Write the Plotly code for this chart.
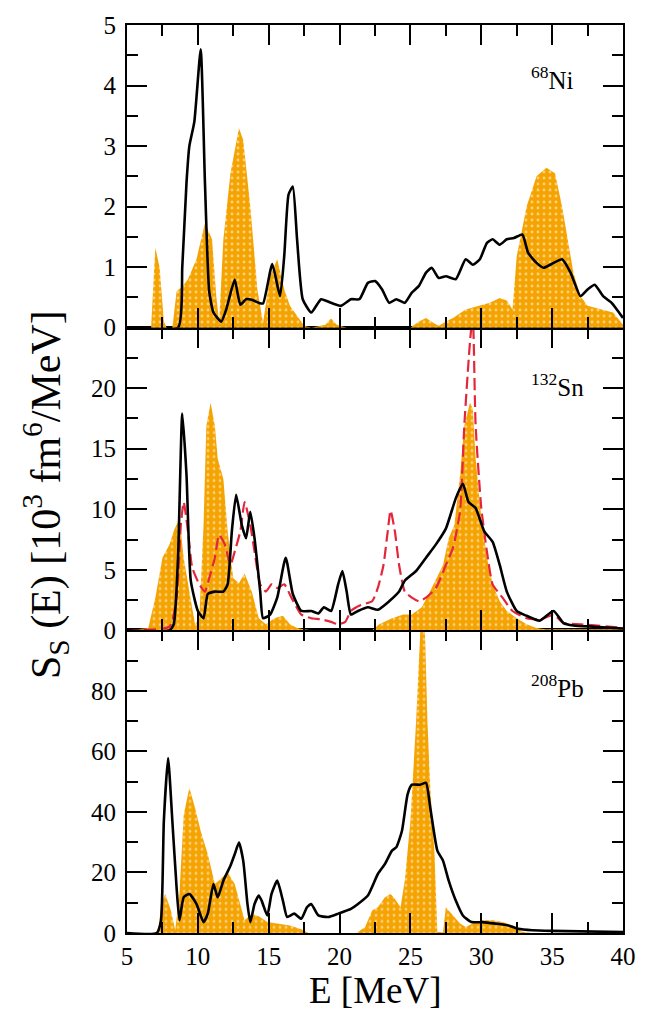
import plotly.graph_objects as go

# ---------------- data ----------------
ni_black_E = [5, 8.6, 8.9, 9.2, 9.4, 9.75, 10.2, 10.5, 10.8, 11.1, 11.65, 12.0, 12.6, 13.0, 13.4, 13.8, 14.3, 14.6, 15.25, 15.8, 16.1, 16.4, 16.7, 17.0, 17.4, 18.0, 18.7, 19.4, 20.1, 20.8, 21.4, 22.0, 22.5, 23.0, 23.5, 24.0, 24.6, 25.1, 25.6, 26.1, 26.5, 27.0, 27.5, 28.2, 28.9, 29.4, 29.9, 30.4, 30.8, 31.3, 31.8, 32.3, 32.9, 33.3, 33.9, 34.4, 35.1, 35.7, 36.3, 37.0, 37.5, 38.0, 38.6, 39.2, 40]
ni_black_S = [0, 0, 1.0, 2.4, 3.0, 3.4, 4.6, 2.4, 0.6, 0.25, 0.1, 0.3, 0.79, 0.38, 0.47, 0.46, 0.41, 0.4, 1.05, 0.52, 1.2, 2.2, 2.33, 1.46, 0.47, 0.25, 0.47, 0.41, 0.36, 0.47, 0.47, 0.74, 0.77, 0.63, 0.41, 0.47, 0.41, 0.58, 0.69, 0.91, 0.99, 0.82, 0.85, 0.80, 1.13, 1.04, 1.13, 1.40, 1.46, 1.37, 1.46, 1.48, 1.54, 1.24, 1.07, 0.99, 1.07, 1.13, 0.91, 0.52, 0.63, 0.71, 0.52, 0.41, 0.16]

ni_fill_E = [5, 6.7, 6.9, 7.0, 7.3, 7.6, 7.8, 8.2, 8.5, 8.9, 9.3, 9.9, 10.5, 11.0, 11.3, 11.5, 11.8, 12.3, 12.9, 13.2, 13.7, 14.2, 14.6, 15.1, 15.6, 16.1, 16.5, 17.0, 17.5, 18.0, 19.0, 19.4, 19.8, 20.5, 25.0, 25.6, 26.1, 26.6, 27.0, 27.5, 28.0, 28.9, 29.9, 30.6, 31.3, 31.8, 32.2, 32.5, 33.2, 33.9, 34.6, 35.2, 35.7, 36.2, 36.5, 37.0, 37.5, 38.5, 39.3, 40]
ni_fill_S = [0, 0, 0.9, 1.32, 1.0, 0.1, 0, 0, 0.6, 0.68, 0.8, 1.13, 1.73, 1.46, 0.52, 0.1, 1.46, 2.55, 3.3, 3.1, 2.0, 0.63, 0.08, 0.85, 1.13, 0.63, 0.36, 0.19, 0.03, 0, 0.05, 0.15, 0.05, 0, 0, 0.1, 0.16, 0.08, 0.03, 0.1, 0.16, 0.3, 0.36, 0.41, 0.49, 0.45, 0.3, 1.18, 2.0, 2.5, 2.64, 2.55, 2.0, 1.35, 0.91, 0.52, 0.36, 0.30, 0.25, 0.05]

sn_black_E = [5, 8.0, 8.3, 8.6, 8.9, 9.2, 9.5, 10.0, 10.4, 10.7, 11.2, 11.8, 12.1, 12.4, 12.7, 13.1, 13.4, 13.7, 14.0, 14.4, 14.6, 15.1, 15.6, 16.2, 16.7, 17.3, 18.0, 18.5, 18.9, 19.4, 19.9, 20.2, 20.5, 20.8, 21.3, 22.0, 22.7, 23.5, 24.2, 24.6, 25.4, 26.1, 26.8, 27.5, 28.2, 28.7, 29.1, 29.6, 30.2, 30.8, 31.3, 31.8, 32.5, 33.2, 34.1, 35.1, 35.8, 36.5, 38.0, 40]
sn_black_S = [0, 0, 0.5, 6.0, 17.9, 12.8, 4.1, 1.6, 1.0, 3.0, 3.2, 3.2, 3.8, 8.2, 11.2, 8.7, 7.6, 9.8, 7.6, 3.2, 1.0, 1.3, 2.7, 6.0, 3.0, 1.6, 1.6, 1.4, 1.9, 1.6, 3.8, 4.9, 3.2, 1.3, 1.6, 1.9, 1.7, 2.4, 3.2, 4.1, 4.9, 6.0, 7.1, 8.4, 10.9, 12.1, 10.6, 10.1, 8.2, 7.3, 5.4, 3.2, 1.6, 1.2, 0.8, 1.6, 0.6, 0.4, 0.3, 0.15]

sn_red_E = [5, 8.0, 8.5, 8.8, 9.0, 9.3, 9.6, 10.1, 10.5, 10.8, 11.2, 11.5, 11.9, 12.3, 12.6, 13.0, 13.3, 13.7, 14.0, 14.4, 14.8, 15.2, 15.6, 16.1, 16.6, 17.3, 18.0, 18.7, 19.4, 19.9, 20.4, 20.8, 21.5, 22.3, 22.7, 23.1, 23.4, 23.6, 23.9, 24.2, 24.6, 25.1, 25.6, 26.1, 26.8, 27.5, 28.0, 28.5, 28.8, 29.2, 29.4, 29.6, 30.0, 30.4, 30.8, 31.5, 32.2, 33.2, 34.2, 35.1, 35.8, 37.0, 40]
sn_red_S = [0, 0.3, 2.7, 8.7, 10.6, 8.2, 5.2, 3.8, 3.2, 4.3, 6.0, 7.9, 7.1, 5.4, 6.5, 8.2, 10.6, 8.7, 6.5, 3.8, 3.2, 3.8, 3.5, 3.8, 2.7, 1.3, 1.0, 0.9, 0.7, 0.5, 0.7, 1.6, 2.1, 2.4, 3.5, 5.4, 8.2, 9.9, 8.2, 5.4, 3.2, 2.7, 2.4, 2.7, 3.5, 5.4, 6.8, 9.8, 16.9, 23.8, 26.0, 16.9, 10.1, 6.5, 3.8, 2.7, 1.6, 1.0, 0.9, 1.3, 0.6, 0.5, 0.2]

sn_fill_E = [5, 6.5, 7.0, 7.5, 8.0, 8.3, 8.7, 9.0, 9.4, 9.8, 10.1, 10.4, 10.6, 10.9, 11.2, 11.4, 11.8, 12.1, 12.5, 12.9, 13.3, 13.8, 14.3, 14.8, 15.4, 16.0, 16.5, 17.0, 17.5, 18.0, 22.3, 22.8, 23.7, 24.5, 25.1, 25.8, 26.5, 27.3, 27.7, 28.1, 28.5, 28.8, 29.2, 29.4, 29.6, 30.0, 30.4, 30.8, 31.3, 31.8, 32.5, 33.2, 33.9, 34.5, 40]
sn_fill_S = [0, 0.2, 2.7, 6.0, 7.1, 8.2, 9.3, 6.0, 3.2, 0.5, 1.0, 8.7, 16.9, 18.8, 16.9, 14.2, 12.5, 8.2, 4.3, 3.9, 4.7, 3.2, 1.0, 0.5, 1.0, 1.2, 0.5, 0.2, 0.1, 0, 0, 0.5, 1.0, 1.3, 1.3, 1.9, 3.5, 5.4, 7.6, 8.7, 12.8, 16.9, 18.8, 18.3, 14.2, 9.3, 6.0, 3.8, 2.4, 1.6, 1.0, 0.5, 0.2, 0.1, 0.1]

pb_black_E = [5, 7.1, 7.4, 7.6, 7.9, 8.2, 8.5, 8.7, 9.0, 9.4, 9.9, 10.4, 10.7, 11.1, 11.4, 11.8, 12.3, 12.6, 12.9, 13.2, 13.5, 13.7, 14.0, 14.3, 14.5, 14.9, 15.2, 15.6, 16.0, 16.3, 16.8, 17.3, 17.7, 18.0, 18.5, 19.2, 19.9, 20.8, 21.3, 22.0, 22.7, 23.2, 23.7, 24.0, 24.4, 24.8, 25.1, 25.7, 26.1, 26.4, 26.9, 27.3, 27.7, 28.2, 28.7, 29.3, 30.1, 31.0, 31.9, 32.6, 33.6, 35.0, 40]
pb_black_S = [0, 0, 4.2, 37, 57.8, 37, 15, 4.2, 11.8, 12.9, 9.6, 3.6, 6.4, 16.2, 11.8, 17.3, 22.2, 26, 29.9, 23.9, 9.6, 3.6, 9.6, 12.4, 10.7, 5.8, 12.9, 17.3, 10.7, 5.3, 6.4, 4.7, 8.5, 9.6, 5.8, 5.3, 6.4, 8.0, 9.6, 12.4, 19.5, 22.8, 27.2, 28.3, 33.7, 45.8, 49, 49, 49.6, 41.4, 27.2, 23.9, 17.3, 10.7, 5.8, 3.6, 3.6, 3.1, 2.5, 1.4, 0.9, 0.7, 0.3]

pb_fill_E = [5, 7.2, 7.4, 7.7, 8.1, 8.4, 8.7, 9.0, 9.4, 9.8, 10.2, 10.7, 11.2, 11.7, 12.1, 12.6, 13.0, 13.3, 13.8, 14.3, 14.9, 15.6, 16.5, 17.3, 17.8, 21.2, 21.8, 22.3, 22.7, 23.2, 23.6, 23.9, 24.3, 24.6, 25.0, 25.4, 25.7, 26.0, 26.2, 26.4, 26.7, 26.9, 27.3, 27.5, 27.9, 28.5, 28.9, 29.4, 30.1, 30.8, 31.5, 32.2, 32.8, 33.5, 40]
pb_fill_S = [0, 0, 9.6, 12.9, 7.4, 0.9, 12.9, 39, 48, 41.4, 33.7, 26, 16.2, 18.4, 20, 16.2, 9.6, 4.2, 6.4, 5.5, 3.6, 3.1, 2.5, 1.2, 0, 0, 2, 7.4, 8.5, 11.8, 12.9, 11.3, 8.5, 17.3, 37, 70, 100, 104, 70, 48, 26, 0.3, 0.3, 8.5, 6.4, 3.1, 2, 3.1, 4.2, 4.2, 3.6, 2.5, 0.5, 0, 0]

x_ticks = [5, 10, 15, 20, 25, 30, 35, 40]
ni_yticks = [0, 1, 2, 3, 4, 5]
sn_yticks = [0, 5, 10, 15, 20]
pb_yticks = [0, 20, 40, 60, 80]
labels = ["<sup>68</sup>Ni", "<sup>132</sup>Sn", "<sup>208</sup>Pb"]

# ---------------- styling ----------------
ORANGE = "#f5a300"
FONT = "Liberation Serif, Times New Roman, Times, serif"

def fill_trace(E, S, xa, ya):
    return go.Scatter(x=E, y=S, mode="lines", line=dict(width=0, color=ORANGE),
                      fill="tozeroy", fillcolor=ORANGE,
                      fillpattern=dict(shape=".", fgcolor="white", bgcolor=ORANGE,
                                       size=6, solidity=0.18),
                      xaxis=xa, yaxis=ya, showlegend=False, hoverinfo="skip")

def line_trace(E, S, xa, ya, color="black", dash="solid", width=2.6):
    return go.Scatter(x=E, y=S, mode="lines",
                      line=dict(color=color, width=width, dash=dash, shape="spline", smoothing=0.5),
                      xaxis=xa, yaxis=ya, showlegend=False)

fig = go.Figure()
# top panel: 68Ni (x3/y3)
fig.add_trace(fill_trace(ni_fill_E, ni_fill_S, "x3", "y3"))
fig.add_trace(line_trace(ni_black_E, ni_black_S, "x3", "y3"))
# middle panel: 132Sn (x2/y2)
fig.add_trace(fill_trace(sn_fill_E, sn_fill_S, "x2", "y2"))
fig.add_trace(line_trace(sn_red_E, sn_red_S, "x2", "y2", color="#e3263a", dash="12px,5px", width=2.2))
fig.add_trace(line_trace(sn_black_E, sn_black_S, "x2", "y2"))
# bottom panel: 208Pb (x/y)
fig.add_trace(fill_trace(pb_fill_E, pb_fill_S, "x", "y"))
fig.add_trace(line_trace(pb_black_E, pb_black_S, "x", "y"))

axis_common = dict(showline=True, linecolor="black", linewidth=2, mirror="ticks",
                   ticks="inside", ticklen=20, tickwidth=2, tickcolor="black",
                   showgrid=False, zeroline=False,
                   tickfont=dict(family=FONT, size=25, color="black"))

xminor = dict(tickmode="linear", tick0=5, dtick=2.5, ticklen=11, tickwidth=2,
              tickcolor="black", ticks="inside", showgrid=False)

dom = [[0, 1/3], [1/3, 2/3], [2/3, 1]]
layout = dict(
    width=648, height=1011,
    margin=dict(l=127, r=16, t=19, b=78),
    plot_bgcolor="white", paper_bgcolor="white",
    showlegend=False,
    font=dict(family=FONT, color="black"),
)
for i, (xa, ya) in enumerate([("xaxis", "yaxis"), ("xaxis2", "yaxis2"), ("xaxis3", "yaxis3")]):
    anchor_y = "y" if i == 0 else f"y{i+1}"
    layout[xa] = dict(axis_common, range=[5, 40], domain=[0, 1], anchor=anchor_y,
                      tickmode="array", tickvals=x_ticks, minor=xminor,
                      showticklabels=(i == 0),
                      **({} if i == 0 else {"matches": "x"}))
ylist = [(pb_yticks, [0, 100], 10), (sn_yticks, [0, 25], 2.5), (ni_yticks, [0, 5], 0.5)]
for i, (tv, rg, mdt) in enumerate(ylist):
    ya = "yaxis" if i == 0 else f"yaxis{i+1}"
    anchor_x = "x" if i == 0 else f"x{i+1}"
    layout[ya] = dict(axis_common, range=rg, domain=dom[i], anchor=anchor_x,
                      tickmode="array", tickvals=tv, ticklabelstandoff=4,
                      minor=dict(tickmode="linear", tick0=0, dtick=mdt, ticklen=11,
                                 tickwidth=2, tickcolor="black", ticks="inside",
                                 showgrid=False))
fig.update_layout(**layout)

# nucleus labels
for lab, ya, yv in zip(labels, ["y3", "y2", "y"], [4.12, 20.3, 81.7]):
    fig.add_annotation(text=lab, x=33.4, y=yv, xref="x" if ya == "y" else "x" + ya[1:],
                       yref=ya, xanchor="left", yanchor="middle", showarrow=False,
                       font=dict(family=FONT, size=25, color="black"))

# axis titles
fig.add_annotation(text="E [MeV]", x=0.50, y=-0.0385, xref="paper", yref="paper",
                   xanchor="center", yanchor="top", showarrow=False,
                   font=dict(family=FONT, size=37, color="black"))
fig.add_annotation(text="S<sub>S</sub> (E) [10<sup>3</sup> fm<sup>6</sup>/MeV]",
                   x=-0.164, y=0.483, xref="paper", yref="paper", textangle=-90,
                   xanchor="center", yanchor="middle", showarrow=False,
                   font=dict(family=FONT, size=42, color="black"))

fig.write_html("out.html")
